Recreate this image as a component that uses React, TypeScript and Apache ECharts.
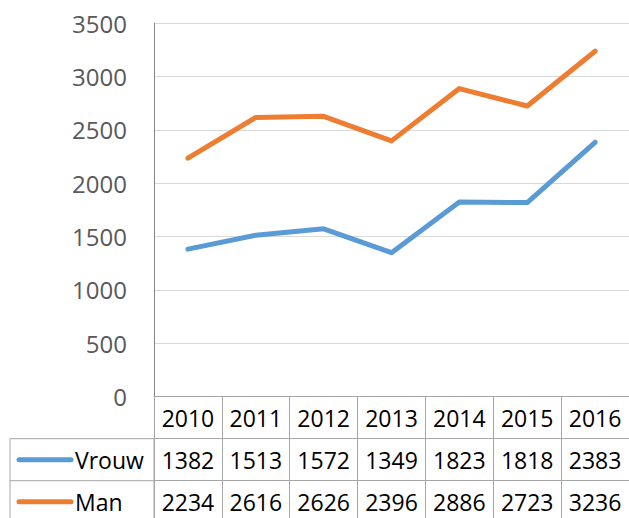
import React, { useEffect, useRef } from "react";
import * as echarts from "echarts";

const years = ["2010", "2011", "2012", "2013", "2014", "2015", "2016"];
const vrouw = [1382, 1513, 1572, 1349, 1823, 1818, 2383];
const man = [2234, 2616, 2626, 2396, 2886, 2723, 3236];
const seriesNames = ["Vrouw", "Man"];
const colors = ["#5b9bd5", "#ed7d31"];
const yMin = 0;
const yMax = 3500;
const yStep = 500;

const FONT = "Open Sans";
const FS = 23;
const BORDER = "#a6a6a6";
const GRID_LEFT = 154;
const GRID_TOP = 23;
const GRID_BOTTOM_Y = 396.7;
const COL_W = 68.1;
const ROW_H = 42;

export default function App() {
  const ref = useRef<HTMLDivElement>(null);
  useEffect(() => {
    if (!ref.current) return;
    const chart = echarts.init(ref.current, undefined, { renderer: "svg" });
    const rowValues = [years.map((y) => y), vrouw.map(String), man.map(String)];
    const xAxes = rowValues.map((vals, r) => ({
      type: "category",
      data: years,
      position: "bottom",
      offset: r * ROW_H,
      boundaryGap: true,
      axisLine: { show: true, lineStyle: { color: BORDER, width: 1 } },
      axisTick: { show: true, length: ROW_H, lineStyle: { color: BORDER, width: 1 } },
      axisLabel: {
        show: true,
        interval: 0,
        margin: ROW_H / 2,
        verticalAlign: "middle",
        color: "#000000",
        fontFamily: FONT,
        fontSize: FS,
        formatter: (_v: string, i: number) => vals[i],
      },
      splitLine: { show: false },
    }));
    const legendGraphics: any[] = [
      {
        type: "rect",
        shape: { x: 10, y: GRID_BOTTOM_Y + ROW_H, width: GRID_LEFT - 10, height: ROW_H * 2 },
        style: { fill: "none", stroke: BORDER, lineWidth: 1 },
      },
      {
        type: "line",
        shape: { x1: 10, y1: GRID_BOTTOM_Y + ROW_H * 2, x2: GRID_LEFT, y2: GRID_BOTTOM_Y + ROW_H * 2 },
        style: { stroke: BORDER, lineWidth: 1 },
      },
    ];
    seriesNames.forEach((name, i) => {
      const cy = GRID_BOTTOM_Y + ROW_H * (i + 1) + ROW_H / 2;
      legendGraphics.push({
        type: "line",
        shape: { x1: 19, y1: cy, x2: 71, y2: cy },
        style: { stroke: colors[i], lineWidth: 5, lineCap: "round" },
      });
      legendGraphics.push({
        type: "text",
        x: 75,
        y: cy,
        style: {
          text: name,
          fill: "#000000",
          font: `${FS}px "${FONT}"`,
          textVerticalAlign: "middle",
          verticalAlign: "middle",
        },
      });
    });
    chart.setOption({
      animation: false,
      grid: {
        left: GRID_LEFT,
        top: GRID_TOP,
        width: COL_W * years.length,
        height: GRID_BOTTOM_Y - GRID_TOP,
        containLabel: false,
      },
      xAxis: xAxes,
      yAxis: {
        type: "value",
        min: yMin,
        max: yMax,
        interval: yStep,
        axisLine: { show: true, lineStyle: { color: "#868686", width: 1 } },
        axisTick: { show: false },
        axisLabel: {
          color: "#595959",
          fontFamily: FONT,
          fontSize: 24,
          margin: 27,
          formatter: (v: number) => String(v),
        },
        splitLine: { show: true, lineStyle: { color: "#d9d9d9", width: 1 } },
      },
      series: [vrouw, man].map((d, i) => ({
        type: "line",
        name: seriesNames[i],
        data: d,
        xAxisIndex: 0,
        symbol: "none",
        color: colors[i],
        lineStyle: { color: colors[i], width: 5, cap: "round", join: "round" },
      })),
      graphic: legendGraphics,
    });
    return () => chart.dispose();
  }, []);
  return (
    <div
      ref={ref}
      style={{ position: "fixed", left: 0, top: 0, width: 629, height: 518, background: "#fff" }}
    />
  );
}
